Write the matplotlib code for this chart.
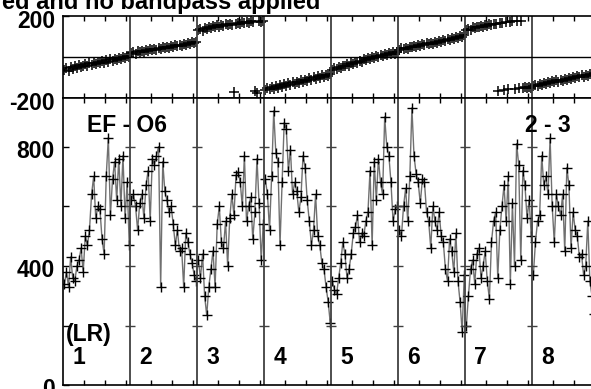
import numpy as np
import matplotlib.pyplot as plt
from matplotlib.transforms import ScaledTranslation

plt.rcParams['font.family'] = ['Liberation Sans', 'DejaVu Sans']
plt.rcParams['font.weight'] = 'bold'

# 8 IFs, 64 channels each, every second channel
n_chan = 64
chan = np.arange(1, n_chan, 2)
if_numbers = ['1', '2', '3', '4', '5', '6', '7', '8']

amp_if1 = [340, 380, 330, 430, 360, 350, 400, 420, 460, 380, 500, 470, 520, 640, 700, 560,
           600, 590, 490, 440, 700, 830, 570, 690, 750, 620, 760, 600, 770, 560, 680, 470]
amp_if2 = [620, 640, 600, 520, 610, 640, 560, 670, 720, 550, 760, 740, 770, 800, 330, 750,
           650, 620, 580, 600, 540, 470, 520, 450, 460, 330, 510, 480, 440, 410, 370, 350]
amp_if3 = [420, 360, 440, 300, 235, 330, 390, 450, 330, 540, 600, 480, 460, 550, 400, 560,
           640, 570, 705, 715, 680, 600, 770, 550, 600, 630, 490, 580, 760, 610, 420, 540]
amp_if4 = [690, 640, 520, 700, 920, 780, 750, 470, 680, 880, 860, 720, 790, 640, 680, 650,
           580, 630, 770, 730, 620, 550, 470, 520, 640, 500, 470, 410, 390, 330, 280, 210]
amp_if5 = [350, 320, 305, 360, 410, 480, 440, 360, 390, 440, 510, 530, 570, 480, 510, 500,
           550, 580, 720, 470, 750, 620, 760, 680, 640, 900, 800, 770, 680, 550, 590, 600]
amp_if6 = [520, 500, 600, 660, 550, 700, 930, 770, 710, 680, 610, 690, 680, 580, 550, 460,
           600, 550, 520, 580, 500, 480, 390, 350, 490, 450, 380, 510, 350, 280, 180, 370]
amp_if7 = [200, 300, 390, 420, 340, 440, 460, 360, 400, 450, 350, 290, 480, 550, 580, 360,
           520, 600, 670, 550, 700, 340, 610, 400, 810, 740, 420, 720, 670, 560, 620, 500]
amp_if8 = [370, 480, 550, 570, 770, 670, 700, 640, 830, 600, 480, 640, 600, 570, 640, 450,
           730, 670, 460, 580, 520, 500, 430, 440, 370, 400, 550, 350, 300, 240, 210, 230]

ph_if1 = [-62, -55, -68, -50, -58, -45, -52, -40, -48, -44, -35, -42, -30, -38, -28, -34,
          -25, -30, -20, -27, -15, -22, -12, -18, -8, -14, -5, -10, 0, -6, 4, -2]
ph_if2 = [18, 25, 15, 28, 22, 30, 26, 35, 29, 38, 33, 40, 36, 44, 38, 47,
          42, 50, 45, 54, 48, 57, 52, 60, 56, 64, 58, 68, 62, 72, 66, 75]
ph_if3 = [130, 138, 128, 142, 135, 146, 140, 150, 144, 155, 148, 158, 152, 160, 155, 163,
          158, -172, 160, 168, 162, 170, 165, 172, 168, 175, 170, -168, -176, 174, 171, 176]
ph_if4 = [-160, -152, -158, -148, -154, -142, -150, -138, -145, -134, -140, -128, -136, -124, -130, -120,
          -126, -114, -122, -110, -116, -104, -112, -100, -106, -94, -102, -90, -96, -86, -92, -82]
ph_if5 = [-62, -54, -60, -48, -52, -44, -46, -36, -42, -30, -34, -26, -28, -18, -24, -12,
          -16, -6, -10, 0, -4, 6, 0, 10, 6, 14, 8, 18, 14, 22, 16, 24]
ph_if6 = [34, 42, 38, 46, 40, 50, 47, 55, 50, 58, 54, 62, 58, 66, 61, 70,
          65, 74, 69, 78, 73, 82, 77, 86, 81, 92, 86, 96, 92, 102, 98, 108]
ph_if7 = [130, 138, 134, 144, 140, 148, 145, 152, 148, 156, 152, 160, 156, 163, 160, -165,
          165, 168, -160, 170, -158, 172, 175, -155, 176, -152, 178, -150, -148, -152, -146, -150]
ph_if8 = [-142, -135, -140, -130, -136, -126, -132, -122, -128, -118, -124, -114, -120, -110, -116, -106,
          -112, -102, -108, -98, -104, -94, -100, -90, -96, -86, -92, -82, -88, -76, -82, -70]

amps = [amp_if1, amp_if2, amp_if3, amp_if4, amp_if5, amp_if6, amp_if7, amp_if8]
phases = [ph_if1, ph_if2, ph_if3, ph_if4, ph_if5, ph_if6, ph_if7, ph_if8]

W, H = 591, 389
fig = plt.figure(figsize=(W / 100, H / 100), dpi=100)
x0 = 63.3 / W
wid = 536 / W
ax_ph = fig.add_axes([x0, (H - 98) / H, wid, 82 / H])
ax_amp = fig.add_axes([x0, 3.6 / H, wid, 287.4 / H])

for k in range(8):
    x = n_chan * k + chan
    ax_ph.plot(x, phases[k], ls='none', marker='+', ms=6.5, mew=1.1, color='black')
    ax_amp.plot(x, amps[k], color='#707070', lw=1.0)
    ax_amp.plot(x, amps[k], ls='none', marker='+', ms=7, mew=1.0, color='black')

xt = [n_chan * k + c for k in range(8) for c in (20, 40, 60)]
for ax in (ax_ph, ax_amp):
    ax.set_xlim(0, 8 * n_chan)
    ax.set_xticks(xt)
    ax.set_xticklabels([])
    ax.tick_params(axis='x', direction='in', length=3.5, width=1, top=True, bottom=True)
    ax.tick_params(axis='y', direction='in', length=4.5, width=1, labelsize=16.5, pad=6)
    for s in ax.spines.values():
        s.set_linewidth(1.2)
    for k in range(1, 8):
        ax.axvline(n_chan * k, color='#404040', lw=1.3)

ax_ph.set_ylim(-200, 200)
ax_ph.set_yticks([-200, 200])
ax_ph.set_yticklabels(['-200', '200'])
ax_ph.axhline(0, color='black', lw=1)

ax_amp.set_ylim(0, 963)
ax_amp.set_yticks([0, 200, 400, 600, 800])
ax_amp.set_yticklabels(['0', '', '400', '', '800'])
for k in range(1, 8):
    ax_amp.plot([n_chan * k] * 4, [200, 400, 600, 800], ls='none', marker='_',
                ms=7, mew=1, color='#404040')

# tick labels sit a little below their ticks in the original
for ax, dy in ((ax_ph, 3), (ax_amp, 2)):
    off = ScaledTranslation(0, -dy / 100, fig.dpi_scale_trans)
    for lab in ax.get_yticklabels():
        lab.set_transform(lab.get_transform() + off)

fs = 16.5
fig.text(320 / W, 1 - 9 / H, 'ed and no bandpass applied', ha='right', va='baseline',
         fontsize=17, fontweight='bold')
fig.text(87 / W, 1 - 132 / H, 'EF - O6', ha='left', va='baseline', fontsize=fs, fontweight='bold')
fig.text(525 / W, 1 - 132 / H, '2 - 3', ha='left', va='baseline', fontsize=fs, fontweight='bold')
fig.text(66 / W, 1 - 341.5 / H, '(LR)', ha='left', va='baseline', fontsize=fs, fontweight='bold')
for k, lab in enumerate(if_numbers):
    fig.text((63.3 + 67 * k + 9) / W, 1 - 364 / H, lab, ha='left', va='baseline',
             fontsize=fs, fontweight='bold')

fig.savefig('out.png', dpi=100)
